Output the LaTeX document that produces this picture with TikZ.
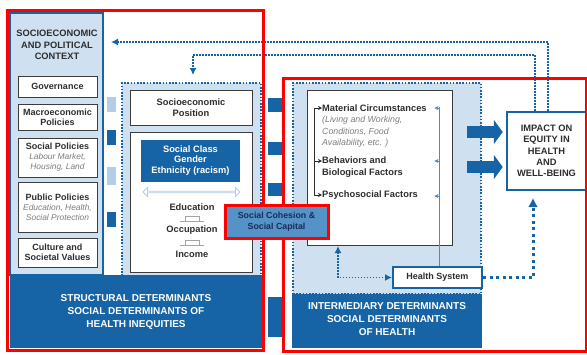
\documentclass[tikz,border=0pt]{standalone}
\usepackage{fontspec}
\setmainfont{Liberation Sans}
\setsansfont{Liberation Sans}
\usetikzlibrary{arrows.meta}
\usetikzlibrary{shapes.arrows}
\usetikzlibrary{calc}

\definecolor{darkBlue}{RGB}{22,100,165}
\definecolor{lightBlue}{RGB}{207,225,240}
\definecolor{paleBlue}{RGB}{178,205,230}
\definecolor{midBlue}{RGB}{84,146,200}
\definecolor{navyText}{RGB}{25,45,85}
\definecolor{boxGray}{RGB}{60,60,60}
\definecolor{textGray}{RGB}{45,45,45}
\definecolor{noteGray}{RGB}{125,125,125}

\newcommand{\noteText}[1]{{\fontsize{8.4}{10}\selectfont\mdseries\itshape\color{noteGray}#1}}

\begin{document}
\begin{tikzpicture}[x=1pt, y=-1pt, font=\sffamily]
	\tikzstyle{panelStyle}=[draw=darkBlue, line width=1.2pt, fill=lightBlue, inner sep=0pt]
	\tikzstyle{dotFrameStyle}=[draw=darkBlue, line width=1.8pt, dash pattern=on 1.6pt off 1.6pt, fill=lightBlue, inner sep=0pt]
	\tikzstyle{policyStyle}=[draw=boxGray, line width=1pt, fill=white, text=textGray, align=center, inner sep=0pt, minimum width=79pt, font=\sffamily\fontsize{9}{10}\selectfont\bfseries]
	\tikzstyle{whiteStyle}=[draw=boxGray, line width=1pt, fill=white, inner sep=0pt]
	\tikzstyle{labelStyle}=[text=textGray, inner sep=0pt, font=\sffamily\fontsize{9.3}{11.5}\selectfont\bfseries]
	\tikzstyle{noteStyle}=[text=noteGray, inner sep=0pt, align=left, font=\sffamily\fontsize{8.8}{11.5}\selectfont\itshape]
	\tikzstyle{bandStyle}=[fill=darkBlue, text=white, align=center, inner sep=0pt, font=\sffamily\fontsize{10}{13}\selectfont\bfseries]
	\tikzstyle{tabStyle}=[fill=darkBlue, inner sep=0pt, minimum width=14pt]
	\tikzstyle{paleTabStyle}=[fill=paleBlue, inner sep=0pt, minimum width=9pt]
	\tikzstyle{outlineStyle}=[draw=darkBlue, fill=white, text=textGray, inner sep=0pt, align=center]
	\tikzstyle{redStyle}=[draw=red, line width=3pt, inner sep=0pt]
	\tikzstyle{dotLineStyle}=[draw=darkBlue, line width=1.4pt, dash pattern=on 1.4pt off 1.6pt]
	\tikzstyle{bigDotStyle}=[draw=darkBlue, line width=3pt, dash pattern=on 3pt off 3.5pt]
	\tikzstyle{blockArrowStyle}=[draw=darkBlue, line width=12pt, -{Triangle[length=9pt,width=24pt]}]
	\tikzstyle{thinStyle}=[draw=darkBlue!75, line width=0.7pt]
	\tikzstyle{stepStyle}=[draw=noteGray!70, line width=0.7pt]
	\useasboundingbox (0,0) rectangle (587,354);

	\node[panelStyle, minimum width=93pt, minimum height=262pt] (ctxCol) at (56.5,144) {};
	\node[labelStyle, align=center] (ctxTitle) at (57,45) {SOCIOECONOMIC\\AND POLITICAL\\CONTEXT};
	\node[policyStyle, minimum height=21pt] (gov) at (57.5,86.5) {Governance};
	\node[policyStyle, minimum height=26pt] (macro) at (57.5,117) {Macroeconomic\\Policies};
	\node[policyStyle, minimum height=39pt] (social) at (57.5,157.5) {Social Policies\\\noteText{Labour Market,}\\\noteText{Housing, Land}};
	\node[policyStyle, minimum height=50pt] (public) at (57.5,207) {Public Policies\\\noteText{Education, Health,}\\\noteText{Social Protection}};
	\node[policyStyle, minimum height=29pt] (culture) at (57.5,252.5) {Culture and\\Societal Values};

	\node[paleTabStyle, minimum height=15pt] (tabA) at (111.5,104.5) {};
	\node[paleTabStyle, minimum height=15pt, fill=darkBlue] (tabB) at (111.5,137.5) {};
	\node[paleTabStyle, minimum height=18pt] (tabC) at (111.5,176) {};
	\node[paleTabStyle, minimum height=15pt, fill=darkBlue] (tabD) at (111.5,219.5) {};

	\node[dotFrameStyle, minimum width=139pt, minimum height=193pt] (posFrame) at (191.5,179.5) {};
	\node[whiteStyle, minimum width=122pt, minimum height=35pt, align=center, text=textGray, font=\sffamily\fontsize{9.3}{11}\selectfont\bfseries] (posBox) at (191,107.5) {Socioeconomic\\Position};
	\node[whiteStyle, minimum width=122pt, minimum height=140pt] (lowBox) at (191,202) {};
	\node[fill=darkBlue, text=white, align=center, inner sep=0pt, minimum width=99pt, minimum height=42pt, font=\sffamily\fontsize{9.3}{10.7}\selectfont\bfseries] (classBox) at (190.5,160.5) {Social Class\\Gender\\Ethnicity (racism)};
	\node[double arrow, draw=paleBlue, fill=white, line width=0.8pt, inner sep=0pt, minimum height=97pt, minimum width=9pt, double arrow head extend=2pt] (ladder) at (191.5,192) {};
	\node[labelStyle] (edu) at (192,207) {Education};
	\node[labelStyle] (occ) at (192,230) {Occupation};
	\node[labelStyle] (inc) at (192,254) {Income};
	\foreach \a/\b in {edu/occ, occ/inc} {
		\coordinate (mark) at ($(\a.south)!0.5!(\b.north)$);
		\draw[stepStyle] (mark) +(-12,3) -- +(12,3) +(-7,3) -- +(-7,-2) -- +(7,-2) -- +(7,3);
	}

	\node[tabStyle, minimum height=14pt] (tabE) at (275,105) {};
	\node[tabStyle, minimum height=13pt] (tabF) at (275,148.5) {};
	\node[tabStyle, minimum height=13pt] (tabG) at (275,189.5) {};
	\node[tabStyle, minimum height=40pt] (tabH) at (275,317) {};

	\node[dotFrameStyle, minimum width=188pt, minimum height=211pt] (interFrame) at (387,188.5) {};
	\node[whiteStyle, minimum width=145pt, minimum height=155pt] (matBox) at (379.5,167.5) {};
	\node[labelStyle, anchor=west] (mat) at (322,108) {Material Circumstances};
	\node[noteStyle, anchor=west] (matNote) at (322,132) {(Living and Working,\\Conditions, Food\\Availability, etc. )};
	\node[labelStyle, anchor=west, align=left, font=\sffamily\fontsize{9.3}{12}\selectfont\bfseries] (beh) at (322,167) {Behaviors and\\Biological Factors};
	\node[labelStyle, anchor=west] (psy) at (322,195) {Psychosocial Factors};
	\coordinate (brk) at (314,108);
	\draw[line width=0.9pt, draw=textGray] (brk) -- (brk |- psy.west);
	\draw[line width=0.9pt, draw=textGray, -{Stealth[length=4pt,width=4pt]}] (brk) -- (mat.west);
	\draw[line width=0.9pt, draw=textGray, -{Stealth[length=4pt,width=4pt]}] (brk |- 0,161) -- ([yshift=6pt]beh.west);
	\draw[line width=0.9pt, draw=textGray, -{Stealth[length=4pt,width=4pt]}] (brk |- psy.west) -- (psy.west);

	\node[bandStyle, minimum width=252pt, minimum height=73pt] (structBand) at (136,311.5) {STRUCTURAL DETERMINANTS\\SOCIAL DETERMINANTS OF\\HEALTH INEQUITIES};
	\node[bandStyle, minimum width=190pt, minimum height=54pt, text depth=4pt] (interBand) at (387,321) {INTERMEDIARY DETERMINANTS\\SOCIAL DETERMINANTS\\OF HEALTH};

	\node[outlineStyle, line width=2pt, minimum width=89pt, minimum height=21pt, font=\sffamily\fontsize{9}{10}\selectfont\bfseries] (hs) at (437.5,277.5) {Health System};
	\node[outlineStyle, line width=2.5pt, minimum width=79pt, minimum height=78pt, font=\sffamily\fontsize{9.3}{11.3}\selectfont\bfseries] (impact) at (546.5,151) {IMPACT ON\\EQUITY IN\\HEALTH\\AND\\WELL-BEING};

	\coordinate (sysTop) at (439,107);
	\draw[thinStyle] (hs.north -| sysTop) -- (sysTop);
	\foreach \n/\y in {mat/108, beh/161, psy/196} {
		\draw[thinStyle, -{Latex[length=4pt,width=4pt]}] (sysTop |- 0,\y) -- ++(-5,0);
	}

	\coordinate (matFoot) at (338,246);
	\draw[dotLineStyle, {Latex[length=7pt,width=7pt]}-{Latex[length=7pt,width=7pt]}] (matFoot) |- (hs.west);
	\coordinate (impFoot) at (533,198);
	\draw[bigDotStyle, -{Latex[length=9pt,width=10pt]}] (hs.east) -| (impFoot);

	\coordinate (flowA) at (467,132);
	\coordinate (flowB) at (467,167);
	\draw[blockArrowStyle] (flowA) -- ([xshift=-3pt]flowA -| impact.west);
	\draw[blockArrowStyle] (flowB) -- ([xshift=-3pt]flowB -| impact.west);

	\coordinate (topA) at (548,42);
	\coordinate (topB) at (535,55);
	\coordinate (ctxTip) at (111,42);
	\coordinate (posTip) at (193,75);
	\draw[dotLineStyle, -{Latex[length=7pt,width=7pt]}] (impact.north -| topA) -- (topA) -- (ctxTip);
	\draw[dotLineStyle, -{Latex[length=7pt,width=7pt]}] (impact.north -| topB) -- (topB) -- (topB -| posTip) -- (posTip);

	\node[redStyle, minimum width=256pt, minimum height=340pt] (structRed) at (135,180) {};
	\node[redStyle, minimum width=303pt, minimum height=273pt] (interRed) at (434.5,214.5) {};
	\node[fill=midBlue, draw=red, line width=3pt, text=navyText, align=center, inner sep=0pt, minimum width=103pt, minimum height=33pt, font=\sffamily\fontsize{8.8}{10.5}\selectfont\bfseries] (cohesion) at (276.5,221.5) {Social Cohesion \&\\Social Capital};
\end{tikzpicture}
\end{document}
